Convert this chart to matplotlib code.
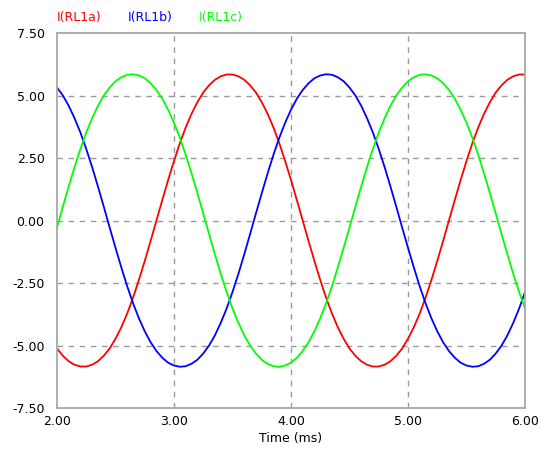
import matplotlib
matplotlib.use("Agg")
import matplotlib.pyplot as plt
from matplotlib.ticker import FormatStrFormatter

# time axis, ms (samples every 0.05 ms)
time_ms = [2.00, 2.05, 2.10, 2.15, 2.20, 2.25, 2.30, 2.35, 2.40, 2.45,
           2.50, 2.55, 2.60, 2.65, 2.70, 2.75, 2.80, 2.85, 2.90, 2.95,
           3.00, 3.05, 3.10, 3.15, 3.20, 3.25, 3.30, 3.35, 3.40, 3.45,
           3.50, 3.55, 3.60, 3.65, 3.70, 3.75, 3.80, 3.85, 3.90, 3.95,
           4.00, 4.05, 4.10, 4.15, 4.20, 4.25, 4.30, 4.35, 4.40, 4.45,
           4.50, 4.55, 4.60, 4.65, 4.70, 4.75, 4.80, 4.85, 4.90, 4.95,
           5.00, 5.05, 5.10, 5.15, 5.20, 5.25, 5.30, 5.35, 5.40, 5.45,
           5.50, 5.55, 5.60, 5.65, 5.70, 5.75, 5.80, 5.85, 5.90, 5.95,
           6.00]

# I(RL1a)
i_rl1a = [-5.12, -5.41, -5.63, -5.77, -5.84, -5.84, -5.77, -5.63, -5.41, -5.12,
          -4.73, -4.27, -3.72, -3.09, -2.38, -1.62, -0.82, 0.00, 0.82, 1.62,
          2.38, 3.09, 3.72, 4.27, 4.73, 5.12, 5.41, 5.63, 5.77, 5.84,
          5.84, 5.77, 5.63, 5.41, 5.12, 4.73, 4.27, 3.72, 3.09, 2.38,
          1.62, 0.82, 0.00, -0.82, -1.62, -2.38, -3.09, -3.72, -4.27, -4.73,
          -5.12, -5.41, -5.63, -5.77, -5.84, -5.84, -5.77, -5.63, -5.41, -5.12,
          -4.73, -4.27, -3.72, -3.09, -2.38, -1.62, -0.82, 0.00, 0.82, 1.62,
          2.38, 3.09, 3.72, 4.27, 4.73, 5.12, 5.41, 5.63, 5.77, 5.84,
          5.84]

# I(RL1b)
i_rl1b = [5.32, 5.00, 4.59, 4.09, 3.52, 2.86, 2.14, 1.36, 0.55, -0.28,
          -1.09, -1.88, -2.63, -3.31, -3.91, -4.43, -4.87, -5.22, -5.49, -5.69,
          -5.80, -5.85, -5.83, -5.73, -5.57, -5.32, -5.00, -4.59, -4.09, -3.52,
          -2.86, -2.14, -1.36, -0.55, 0.28, 1.09, 1.88, 2.63, 3.31, 3.91,
          4.43, 4.87, 5.22, 5.49, 5.69, 5.80, 5.85, 5.83, 5.73, 5.57,
          5.32, 5.00, 4.59, 4.09, 3.52, 2.86, 2.14, 1.36, 0.55, -0.28,
          -1.09, -1.88, -2.63, -3.31, -3.91, -4.43, -4.87, -5.22, -5.49, -5.69,
          -5.80, -5.85, -5.83, -5.73, -5.57, -5.32, -5.00, -4.59, -4.09, -3.52,
          -2.86]

# I(RL1c)
i_rl1c = [-0.28, 0.55, 1.36, 2.14, 2.86, 3.52, 4.09, 4.59, 5.00, 5.32,
          5.57, 5.73, 5.83, 5.85, 5.80, 5.69, 5.49, 5.22, 4.87, 4.43,
          3.91, 3.31, 2.63, 1.88, 1.09, 0.28, -0.55, -1.36, -2.14, -2.86,
          -3.52, -4.09, -4.59, -5.00, -5.32, -5.57, -5.73, -5.83, -5.85, -5.80,
          -5.69, -5.49, -5.22, -4.87, -4.43, -3.91, -3.31, -2.63, -1.88, -1.09,
          -0.28, 0.55, 1.36, 2.14, 2.86, 3.52, 4.09, 4.59, 5.00, 5.32,
          5.57, 5.73, 5.83, 5.85, 5.80, 5.69, 5.49, 5.22, 4.87, 4.43,
          3.91, 3.31, 2.63, 1.88, 1.09, 0.28, -0.55, -1.36, -2.14, -2.86,
          -3.52]

series_names = ['I(RL1a)', 'I(RL1b)', 'I(RL1c)']
x_ticks = [2.0, 3.0, 4.0, 5.0, 6.0]
y_ticks = [-7.5, -5.0, -2.5, 0.0, 2.5, 5.0, 7.5]
grid_x = [3.0, 4.0, 5.0]
grid_y = [-5.0, -2.5, 0.0, 2.5, 5.0]

colors = ['#ff0000', '#0000ff', '#00ff00']

fig = plt.figure(figsize=(5.41, 4.55), dpi=100)
ax = fig.add_axes([57 / 541, 1 - 408 / 455, (525 - 57) / 541, (408 - 33) / 455])

# dashed grid only inside the frame
for gx in grid_x:
    ax.axvline(gx, color='#9a9a9a', linestyle=(0, (4, 4)), lw=1.0, zorder=1)
for gy in grid_y:
    ax.axhline(gy, color='#9a9a9a', linestyle=(0, (4, 4)), lw=1.0, zorder=1)

for ys, c in zip([i_rl1a, i_rl1b, i_rl1c], colors):
    ax.plot(time_ms, ys, color=c, lw=1.3, zorder=2)

ax.set_xlim(2.0, 6.0)
ax.set_ylim(-7.5, 7.5)
ax.set_xticks(x_ticks)
ax.set_yticks(y_ticks)
ax.xaxis.set_major_formatter(FormatStrFormatter('%.2f'))
ax.yaxis.set_major_formatter(FormatStrFormatter('%.2f'))
ax.tick_params(length=0, labelsize=9, colors='black')
ax.tick_params(axis='y', pad=9)
ax.tick_params(axis='x', pad=5)
for s in ax.spines.values():
    s.set_color('#a8a8a8')
    s.set_linewidth(1.3)
    s.set_zorder(3)
ax.set_xlabel('Time (ms)', fontsize=9, labelpad=3)

# series labels above the plot
label_x = [57, 128, 199]
for name, c, px in zip(series_names, colors, label_x):
    fig.text(px / 541, 1 - 18 / 455, name, color=c, fontsize=9, va='center', ha='left')

fig.savefig('out.png', dpi=100)
